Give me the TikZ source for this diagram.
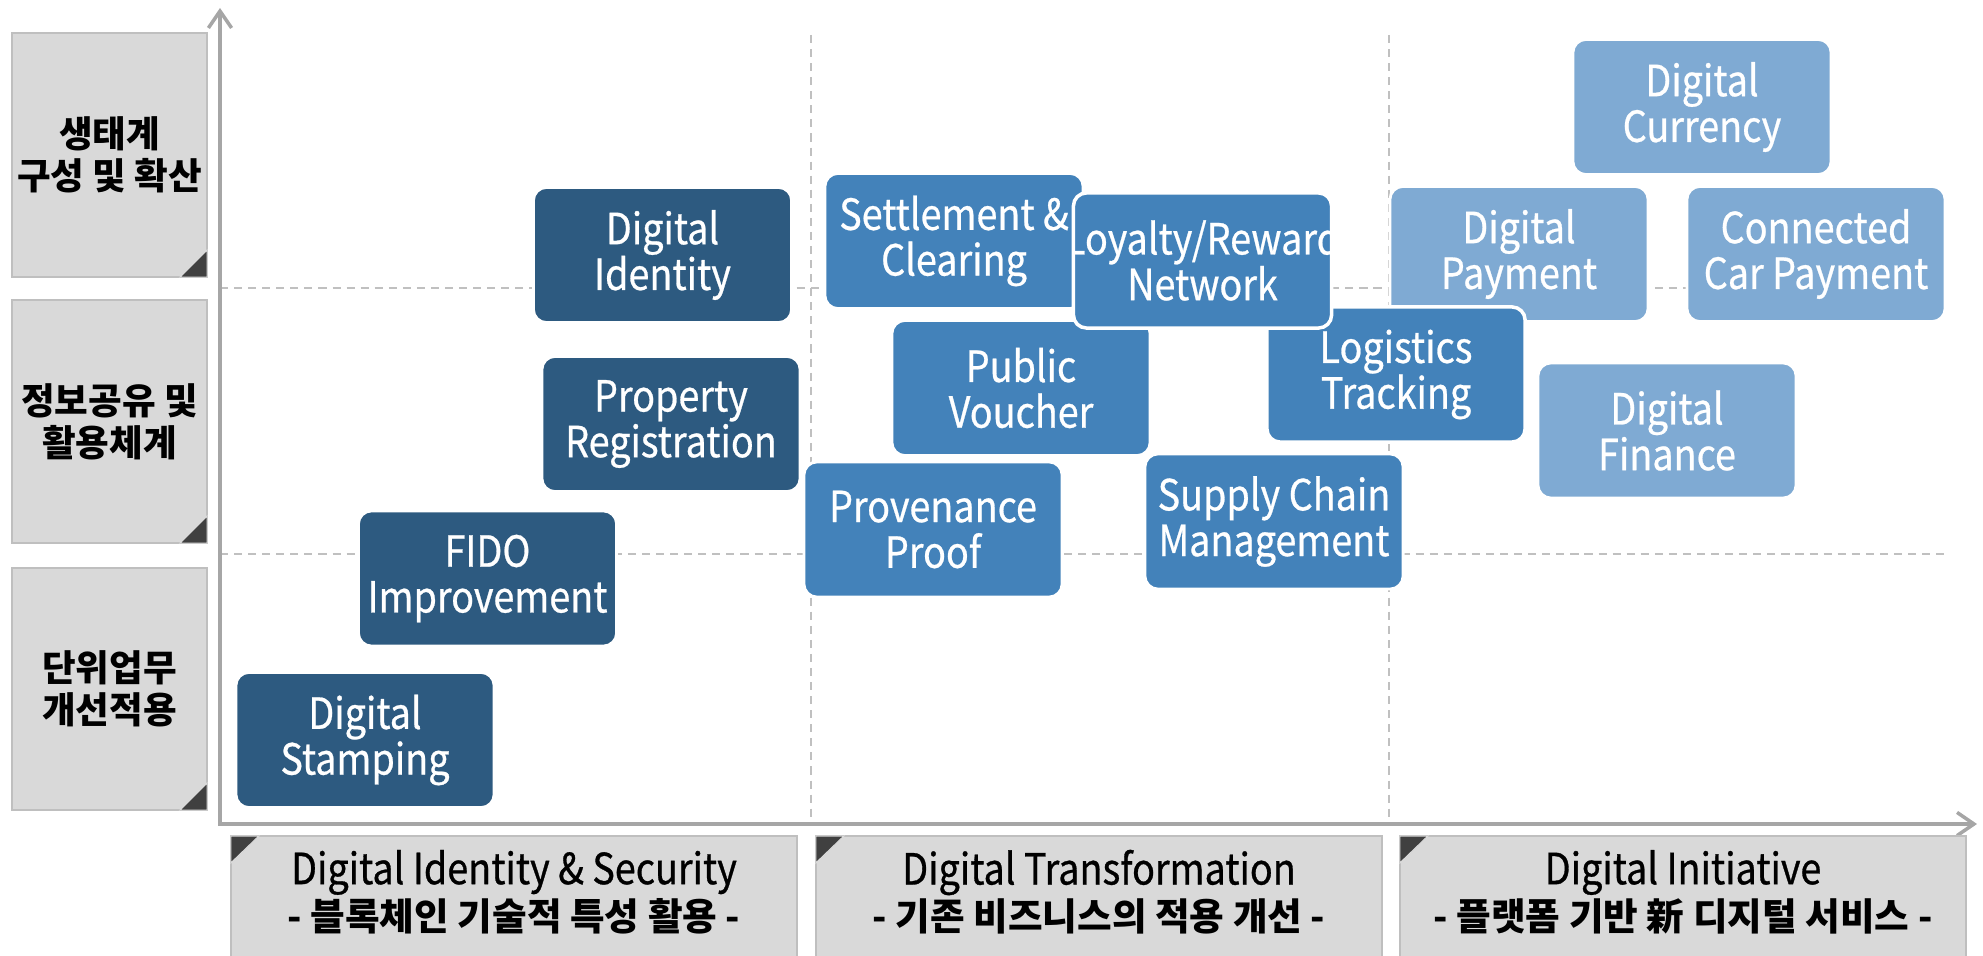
\documentclass[tikz,border=0pt]{standalone}
\usepackage{fontspec}
\setmainfont{Noto Sans CJK KR}
\newfontfamily\tilefont[FakeStretch=0.88,FakeBold=0.6]{Noto Sans CJK KR}
\newfontfamily\axisfont[FakeStretch=0.88,FakeBold=0.7]{Noto Sans CJK KR}
\usetikzlibrary{arrows.meta}
\definecolor{darktile}{HTML}{2D5A80}
\definecolor{midtile}{HTML}{4382BA}
\definecolor{lighttile}{HTML}{7FAAD3}
\definecolor{labfill}{HTML}{D9D9D9}
\definecolor{labline}{HTML}{BFBFBF}
\definecolor{axisgray}{HTML}{A6A6A6}
\definecolor{dashgray}{HTML}{C0C0C0}
\definecolor{cornerfill}{HTML}{404040}
\begin{document}
\begin{tikzpicture}[x=0.01cm,y=-0.01cm,
  tile/.style={draw=white, line width=0.8pt, rounded corners=0.13cm,
    minimum width=2.58cm, minimum height=1.35cm, inner sep=0pt, outer sep=0pt,
    text=white, align=center, font=\tilefont\fontsize{12.2}{13}\selectfont},
  dtile/.style={tile, fill=darktile},
  mtile/.style={tile, fill=midtile},
  ltile/.style={tile, fill=lighttile},
  tiletext/.style={text=white, align=center, font=\tilefont\fontsize{12.2}{13}\selectfont, inner sep=0pt},
  ylab/.style={fill=labfill, draw=labline, line width=0.6pt, minimum width=1.95cm,
    inner sep=0pt, outer sep=0pt, align=center, font=\fontsize{10.4}{12}\selectfont\bfseries},
  xlab/.style={fill=labfill, draw=labline, line width=0.6pt, minimum width=5.66cm,
    minimum height=1.22cm, inner sep=0pt, outer sep=0pt},
  xtext/.style={align=center, inner sep=0pt, font=\axisfont\fontsize{12.2}{11.1}\selectfont},
  guide/.style={dashgray, line width=0.55pt, dash pattern=on 2.3pt off 1.7pt},
  axisline/.style={axisgray, line width=1pt},
  cornertri/.style={fill=cornerfill, draw=white!85!black, line width=0.3pt}
]
\useasboundingbox (0,0) rectangle (1983,955);
\clip (0,0) rectangle (1983,955);

% guide lines
\coordinate (g1a) at (220,288);  \coordinate (g1b) at (1950,288);
\coordinate (g2a) at (220,554);  \coordinate (g2b) at (1950,554);
\coordinate (v1a) at (811,35);   \coordinate (v1b) at (811,824);
\coordinate (v2a) at (1389,35);  \coordinate (v2b) at (1389,824);
\draw[guide] (g1a) -- (g1b);
\draw[guide] (g2a) -- (g2b);
\draw[guide] (v1a) -- (v1b);
\draw[guide] (v2a) -- (v2b);

% axes
\coordinate (origin) at (220,824);
\coordinate (ytip) at (220,8);
\coordinate (xtip) at (1977,824);
\draw[axisline, {Straight Barb[length=4.8pt,width=6.6pt]}-{Straight Barb[length=4.8pt,width=6.6pt]}]
  (ytip) -- (origin) -- (xtip);

% left labels
\node[ylab, minimum height=2.44cm] (ya) at (109.5,155) {생태계\\구성 및 확산};
\node[ylab, minimum height=2.43cm] (yb) at (109.5,421.5) {정보공유 및\\활용체계};
\node[ylab, minimum height=2.42cm] (yc) at (109.5,689) {단위업무\\개선적용};
\foreach \n in {ya,yb,yc}{
  \draw[cornertri] (\n.south east) -- ++(-27,0) -- ++(27,-27) -- cycle;
}

% bottom labels
\node[xlab] (xa) at (514,897) {};
\node[xlab] (xb) at (1099,897) {};
\node[xlab] (xc) at (1683,897) {};
\foreach \n in {xa,xb,xc}{
  \draw[cornertri] (\n.north west) -- ++(28,0) -- ++(-28,27) -- cycle;
}
\node[xtext] (xat) at (514,892) {Digital Identity \& Security\\{\rmfamily\fontsize{10.7}{11.1}\selectfont\bfseries - 블록체인 기술적 특성 활용 -}};
\node[xtext] (xbt) at (1099,892) {Digital Transformation\\{\rmfamily\fontsize{10.7}{11.1}\selectfont\bfseries - 기존 비즈니스의 적용 개선 -}};
\node[xtext] (xct) at (1683,892) {Digital Initiative\\{\rmfamily\fontsize{10.7}{11.1}\selectfont\bfseries - 플랫폼 기반 新 디지털 서비스 -}};

% dark tiles
\node[dtile] (stamp) at (365,740) {Digital\\Stamping};
\node[dtile] (fido) at (487.5,578.5) {FIDO\\Improvement};
\node[dtile] (prop) at (671,424) {Property\\Registration};
\node[dtile] (ident) at (662.5,255) {Digital\\Identity};

% light tiles
\node[ltile] (curr) at (1702,107) {Digital\\Currency};
\node[ltile] (pay) at (1519,254) {Digital\\Payment};
\node[ltile] (car) at (1816,254) {Connected\\Car Payment};
\node[ltile] (fin) at (1667,430.5) {Digital\\Finance};

% mid tiles
\node[mtile] (settle) at (954,241) {Settlement \&\\Clearing};
\node[mtile] (voucher) at (1021,388) {Public\\Voucher};
\node[mtile] (prov) at (933,529.5) {Provenance\\Proof};
\node[mtile] (supply) at (1274,521.5) {Supply Chain\\Management};
\node[mtile, line width=1pt] (logist) at (1396,374.5) {Logistics\\Tracking};
\node[mtile, line width=1pt, path picture={
  \node[tiletext] (loyaltext) at (path picture bounding box.center) {Loyalty/Reward\\Network};}]
  (loyal) at (1202.5,260.5) {};
\end{tikzpicture}
\end{document}
